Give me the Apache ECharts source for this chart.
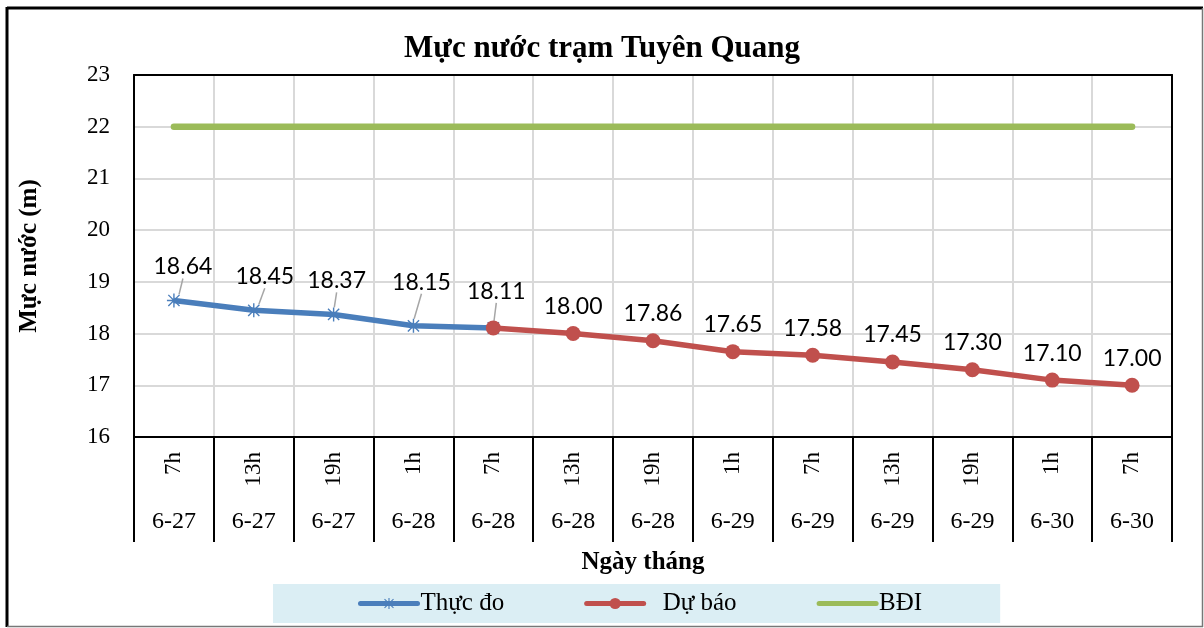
<!DOCTYPE html>
<html>
<head>
<meta charset="utf-8">
<script src="https://cdn.jsdelivr.net/npm/echarts@6/dist/echarts.min.js"></script>
<style>html,body{margin:0;padding:0;background:#fff;}#c{width:1204px;height:628px;}</style>
</head>
<body>
<div id="c"></div>
<script>
const hours = ['7h','13h','19h','1h','7h','13h','19h','1h','7h','13h','19h','1h','7h'];
const dates = ['6-27','6-27','6-27','6-28','6-28','6-28','6-28','6-29','6-29','6-29','6-29','6-30','6-30'];
const thucDo = [18.64, 18.45, 18.37, 18.15, 18.11, null, null, null, null, null, null, null, null];
const duBao = [null, null, null, null, 18.11, 18.00, 17.86, 17.65, 17.58, 17.45, 17.30, 17.10, 17.00];
const bdi = [22, 22, 22, 22, 22, 22, 22, 22, 22, 22, 22, 22, 22];
const yTicks = { min: 16, max: 23, interval: 1 };

const serif = 'Liberation Serif';
const labelFont = 'Lato';
const starPath = 'path://M9 0L11 0L11 20L9 20Z M2.7 1.3L18.7 17.3L17.3 18.7L1.3 2.7Z M17.3 1.3L18.7 2.7L2.7 18.7L1.3 17.3Z M0 9L20 9L20 11L0 11Z';
const blueDx = [9, 11, 3, 8, 3];
const blueDy = [-11, -11, -11, -21, -14];

const chart = echarts.init(document.getElementById('c'));
chart.setOption({
  animation: false,
  backgroundColor: '#fff',
  title: {
    text: 'Mực nước trạm Tuyên Quang',
    left: 'center', top: 28,
    textStyle: { fontFamily: serif, fontWeight: 'bold', fontSize: 31, color: '#000' }
  },
  legend: {
    left: 273, top: 584,
    padding: [7, 78, 7, 85],
    backgroundColor: '#dbeef4',
    itemWidth: 57, itemHeight: 14, itemGap: 80,
    lineStyle: { width: 5, cap: 'round' },
    textStyle: { fontFamily: serif, fontSize: 25, color: '#000', padding: [0, 0, 0, -2] },
    data: [
      { name: 'Thực đo' },
      { name: 'Dự báo', textStyle: { padding: [0, 0, 0, 14] } },
      { name: 'BĐI', itemStyle: { opacity: 0 } }
    ]
  },
  grid: {
    left: 134, top: 75, right: 32, bottom: 191,
    show: false, containLabel: false
  },
  xAxis: [
    {
      type: 'category', data: hours, position: 'bottom', boundaryGap: true,
      name: 'Ngày tháng', nameLocation: 'middle', nameGap: 113,
      nameTextStyle: { fontFamily: serif, fontWeight: 'bold', fontSize: 25, color: '#000', padding: [0, 20, 0, 0] },
      axisLine: { lineStyle: { color: '#000', width: 2 } },
      axisTick: { show: true, length: 105, interval: 0, lineStyle: { color: '#000', width: 2 } },
      axisLabel: { interval: 0, rotate: 90, margin: 15, fontFamily: serif, fontSize: 23, color: '#000' },
      splitLine: { show: true, interval: 0, lineStyle: { color: '#d9d9d9', width: 2 } }
    },
    {
      type: 'category', data: dates, position: 'bottom', offset: 0, boundaryGap: true,
      axisLine: { show: false }, axisTick: { show: false },
      axisLabel: { interval: 0, margin: 73, fontFamily: serif, fontSize: 24, color: '#000' },
      splitLine: { show: false }
    },
    {
      type: 'category', data: hours, position: 'top', offset: 0, boundaryGap: true,
      axisLine: { show: true, lineStyle: { color: '#000', width: 2 } },
      axisTick: { show: false }, axisLabel: { show: false }, splitLine: { show: false }
    }
  ],
  yAxis: [
    {
      type: 'value', min: yTicks.min, max: yTicks.max, interval: yTicks.interval,
      name: 'Mực nước (m)', nameLocation: 'middle', nameGap: 92,
      nameTextStyle: { fontFamily: serif, fontWeight: 'bold', fontSize: 25, color: '#000' },
      axisLine: { show: true, lineStyle: { color: '#000', width: 2 } },
      axisTick: { show: false },
      axisLabel: { margin: 24, fontFamily: serif, fontSize: 23, color: '#000' },
      splitLine: { lineStyle: { color: '#d9d9d9', width: 2 } }
    },
    {
      type: 'value', min: yTicks.min, max: yTicks.max, interval: yTicks.interval, position: 'right',
      axisLine: { show: true, lineStyle: { color: '#000', width: 2 } },
      axisTick: { show: false }, axisLabel: { show: false }, splitLine: { show: false }
    }
  ],
  series: [
    {
      name: 'Thực đo', type: 'line', data: thucDo, connectNulls: false,
      symbol: starPath, symbolSize: 14,
      lineStyle: { color: '#4a7ebb', width: 5.5 },
      itemStyle: { color: '#4a7ebb' },
      label: {
        show: true, position: 'top', distance: 4,
        fontFamily: labelFont, fontSize: 23, color: '#000',
        formatter: p => p.value.toFixed(2)
      },
      labelLine: { show: true, lineStyle: { color: '#a6a6a6', width: 1.5 } },
      labelLayout: p => ({ dx: blueDx[p.dataIndex] || 0, dy: blueDy[p.dataIndex] || 0 }),
      z: 3
    },
    {
      name: 'Dự báo', type: 'line', data: duBao,
      symbol: 'circle', symbolSize: 15,
      lineStyle: { color: '#c0504d', width: 5.5 },
      itemStyle: { color: '#c0504d' },
      label: {
        show: true, position: 'top', distance: 8,
        fontFamily: labelFont, fontSize: 23, color: '#000',
        formatter: p => (p.dataIndex === 4 ? '' : p.value.toFixed(2))
      },
      z: 4
    },
    {
      name: 'BĐI', type: 'line', data: bdi,
      symbol: 'none', showSymbol: false,
      lineStyle: { color: '#9bbb59', width: 6.5, cap: 'round' },
      itemStyle: { color: '#9bbb59' },
      z: 2
    }
  ],
  graphic: [
    { type: 'line', shape: { x1: 7, y1: 8, x2: 1203, y2: 8 }, style: { stroke: '#000', lineWidth: 3 } },
    { type: 'line', shape: { x1: 7, y1: 7, x2: 7, y2: 627 }, style: { stroke: '#000', lineWidth: 3 } },
    { type: 'line', shape: { x1: 1202.5, y1: 8, x2: 1202.5, y2: 627 }, style: { stroke: '#777', lineWidth: 1.5 } },
    { type: 'line', shape: { x1: 7, y1: 626.5, x2: 1203, y2: 626.5 }, style: { stroke: '#777', lineWidth: 1.5 } }
  ]
});
</script>
</body>
</html>
